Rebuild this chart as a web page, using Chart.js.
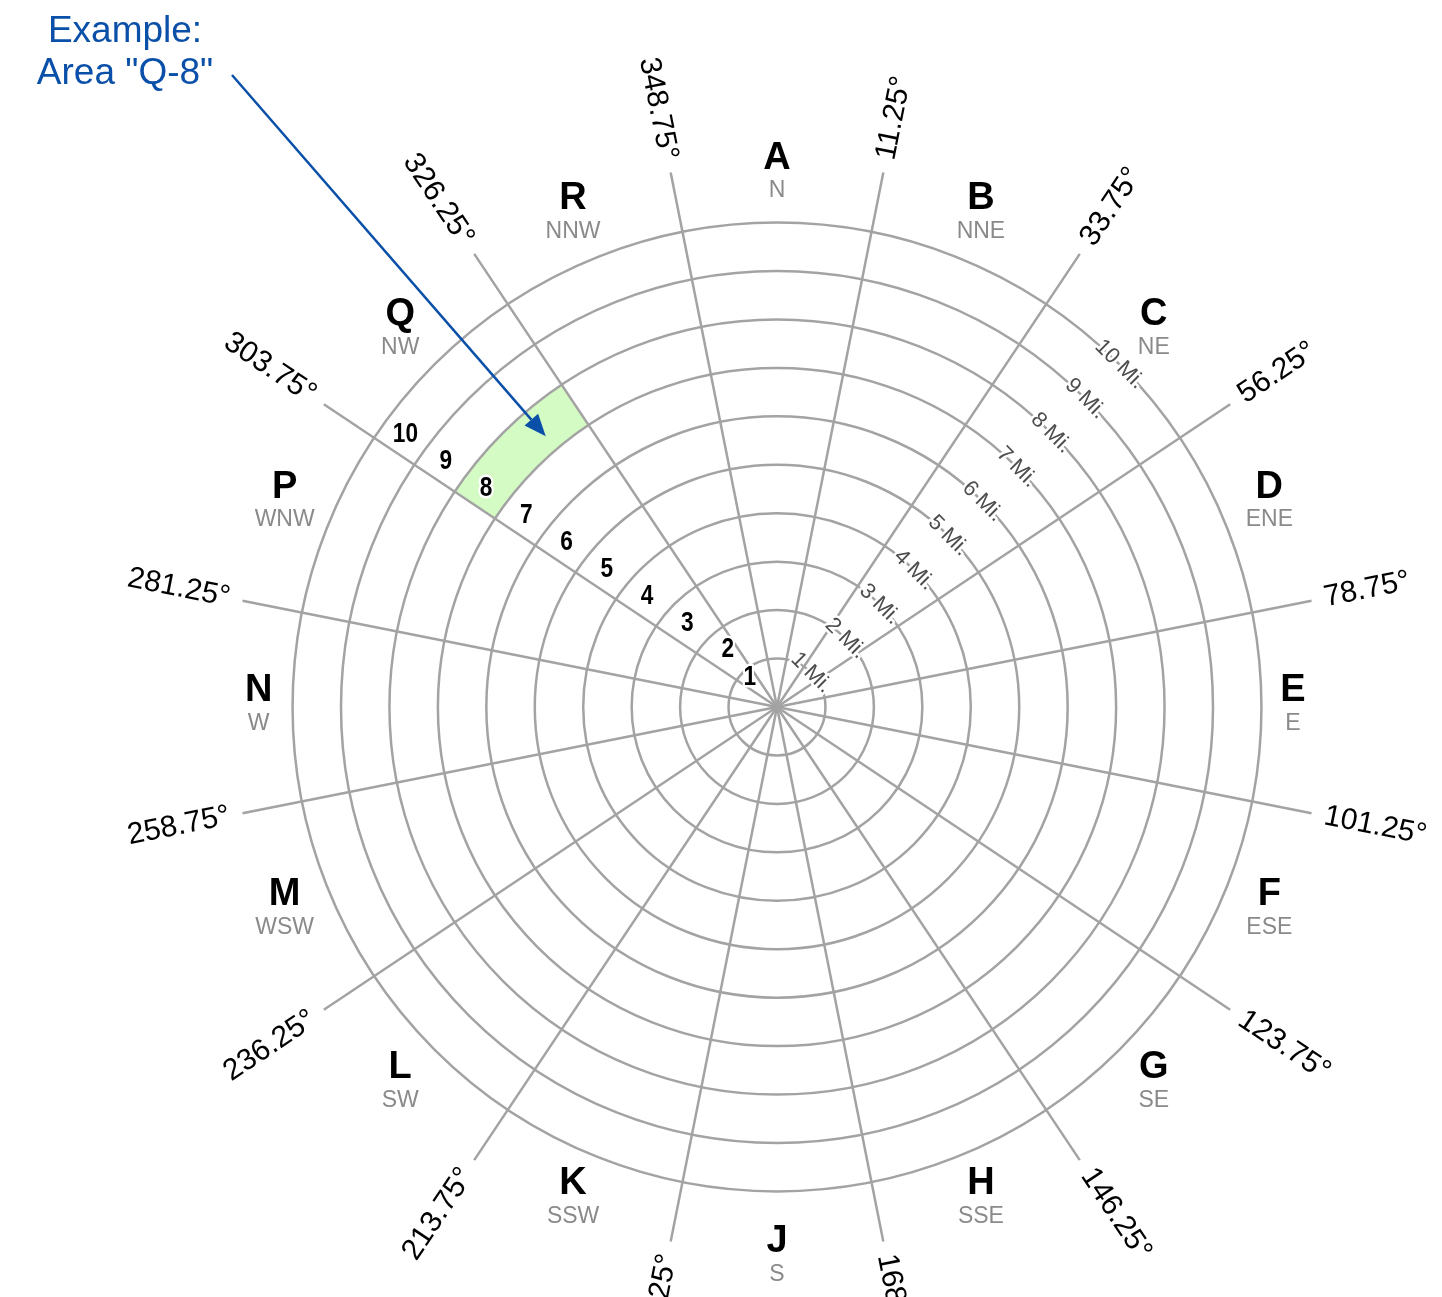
<!DOCTYPE html>
<html>
<head>
<meta charset="utf-8">
<script src="https://cdn.jsdelivr.net/npm/chart.js@4/dist/chart.umd.min.js"></script>
<style>
  html, body { margin: 0; padding: 0; background: #fff; }
  #wrap { width: 1442px; height: 1297px; position: relative; }
</style>
</head>
<body>
<div id="wrap"><canvas id="grid"></canvas></div>
<script>
// Sector letters and compass directions, clockwise from north
const sectors = ['A', 'B', 'C', 'D', 'E', 'F', 'G', 'H', 'J', 'K', 'L', 'M', 'N', 'P', 'Q', 'R'];
const directions = ['N', 'NNE', 'NE', 'ENE', 'E', 'ESE', 'SE', 'SSE', 'S', 'SSW', 'SW', 'WSW', 'W', 'WNW', 'NW', 'NNW'];
// Bearing at the start of each sector (spoke labels)
const spokeLabels = ['348.75°', '11.25°', '33.75°', '56.25°', '78.75°', '101.25°', '123.75°', '146.25°',
                     '168.75°', '191.25°', '213.75°', '236.25°', '258.75°', '281.25°', '303.75°', '326.25°'];
// Distance rings
const ringMiles = [1, 2, 3, 4, 5, 6, 7, 8, 9, 10];
const ringLabels = ['1 Mi.', '2 Mi.', '3 Mi.', '4 Mi.', '5 Mi.', '6 Mi.', '7 Mi.', '8 Mi.', '9 Mi.', '10 Mi.'];
// Example area
const exampleSector = 'Q';
const exampleRing = 8;
const exampleText = ['Example:', 'Area "Q-8"'];

const gridColor = '#a3a3a3';
const blue = '#0a4fa8';
const fontFamily = '"Liberation Sans", Arial, sans-serif';

// Outer and inner edge of the example cell; all other sectors stay empty
const outerData = sectors.map(s => s === exampleSector ? exampleRing : 0);
const innerData = sectors.map(s => s === exampleSector ? exampleRing - 1 : 0);

function haloText(ctx, text, x, y, width) {
    ctx.lineJoin = 'round';
    ctx.strokeStyle = '#fff';
    ctx.lineWidth = width;
    ctx.strokeText(text, x, y);
    ctx.fillText(text, x, y);
}

const labelPlugin = {
    id: 'labelPlugin',
    afterDraw(chart) {
        const scale = chart.scales.r;
        const ctx = chart.ctx;
        const unit = scale.getDistanceFromCenterForValue(1);
        ctx.save();

        // Spoke bearings, rotated along the spoke
        ctx.font = '30px ' + fontFamily;
        ctx.fillStyle = '#000';
        ctx.textBaseline = 'middle';
        spokeLabels.forEach((label, i) => {
            const p = scale.getPointPosition(i, scale.drawingArea + 13);
            const bearing = i * 22.5 - 11.25;
            const leftSide = bearing > 180 || bearing < 0;
            ctx.save();
            ctx.translate(p.x, p.y);
            ctx.rotate(leftSide ? p.angle + Math.PI : p.angle);
            ctx.textAlign = leftSide ? 'right' : 'left';
            ctx.fillText(label, 0, 0);
            ctx.restore();
        });

        // Sector letters with compass direction below
        // (E and W labels sit a little closer in, S a little further out)
        const nudge = { E: -0.35, W: -0.3, S: 0.37 };
        ctx.textAlign = 'center';
        sectors.forEach((letter, i) => {
            const p = scale.getPointPositionForValue(i + 0.5, 11 + (nudge[directions[i]] || 0));
            ctx.font = 'bold 38px ' + fontFamily;
            ctx.fillStyle = '#000';
            ctx.fillText(letter, p.x, p.y - 16);
            ctx.font = '23px ' + fontFamily;
            ctx.fillStyle = '#8a8a8a';
            ctx.fillText(directions[i], p.x, p.y + 17);
        });

        // Ring distance labels along the NE direction
        const neIndex = directions.indexOf('NE') + 0.5;
        ctx.font = '22px ' + fontFamily;
        ctx.fillStyle = '#4d4d4d';
        ringMiles.forEach((m, i) => {
            const p = scale.getPointPositionForValue(neIndex, m);
            ctx.save();
            ctx.translate(p.x, p.y);
            ctx.rotate(p.angle + Math.PI / 2);
            haloText(ctx, ringLabels[i], 0, 0, 5);
            ctx.restore();
        });

        // Ring numbers next to the spoke that starts sector Q
        const qIndex = sectors.indexOf(exampleSector);
        ctx.font = 'bold 27px ' + fontFamily;
        ctx.fillStyle = '#000';
        ringMiles.forEach(m => {
            const p = scale.getPointPositionForValue(qIndex, Math.max(m - 0.5, 0.8));
            const off = m === 1 ? 9 : 20;
            const a = p.angle + Math.PI / 2;
            ctx.save();
            ctx.translate(p.x + off * Math.cos(a), p.y + off * Math.sin(a));
            ctx.scale(0.84, 1);
            haloText(ctx, String(m), 0, 0, 5);
            ctx.restore();
        });

        // Annotation text and arrow
        ctx.font = '37px ' + fontFamily;
        ctx.fillStyle = blue;
        ctx.textBaseline = 'alphabetic';
        ctx.fillText(exampleText[0], 125, 42);
        ctx.fillText(exampleText[1], 125, 84);

        const tip = scale.getPointPositionForValue(qIndex + 0.7, 7.35);
        const start = {x: 232, y: 75};
        const ang = Math.atan2(tip.y - start.y, tip.x - start.x);
        const headLen = 22, headW = 9;
        const bx = tip.x - headLen * Math.cos(ang), by = tip.y - headLen * Math.sin(ang);
        ctx.strokeStyle = blue;
        ctx.lineWidth = 2.5;
        ctx.beginPath();
        ctx.moveTo(start.x, start.y);
        ctx.lineTo(bx, by);
        ctx.stroke();
        ctx.beginPath();
        ctx.moveTo(tip.x, tip.y);
        ctx.lineTo(bx + headW * Math.sin(ang), by - headW * Math.cos(ang));
        ctx.lineTo(bx - headW * Math.sin(ang), by + headW * Math.cos(ang));
        ctx.closePath();
        ctx.fill();

        ctx.restore();
    }
};

new Chart(document.getElementById('grid'), {
    type: 'polarArea',
    data: {
        labels: sectors,
        datasets: [
            // drawn last, covers the inside of the example cell
            { data: innerData, backgroundColor: '#fff', borderWidth: 0 },
            { data: outerData, backgroundColor: '#d4fbc4', borderWidth: 0 }
        ]
    },
    options: {
        responsive: true,
        maintainAspectRatio: false,
        animation: false,
        layout: { padding: { left: 112, right: 0, top: 162, bottom: 45 } },
        plugins: {
            legend: { display: false },
            tooltip: { enabled: false }
        },
        scales: {
            r: {
                min: 0,
                max: 11.25,
                startAngle: -11.25,
                ticks: { display: false, stepSize: 1 },
                pointLabels: { display: false },
                angleLines: { display: true, color: gridColor, lineWidth: 2.5 },
                grid: {
                    z: 1,
                    circular: true,
                    color: gridColor,
                    lineWidth: ctx => ctx.tick && ctx.tick.value > 10 ? 0 : 2.5
                }
            }
        }
    },
    plugins: [labelPlugin]
});
</script>
</body>
</html>
